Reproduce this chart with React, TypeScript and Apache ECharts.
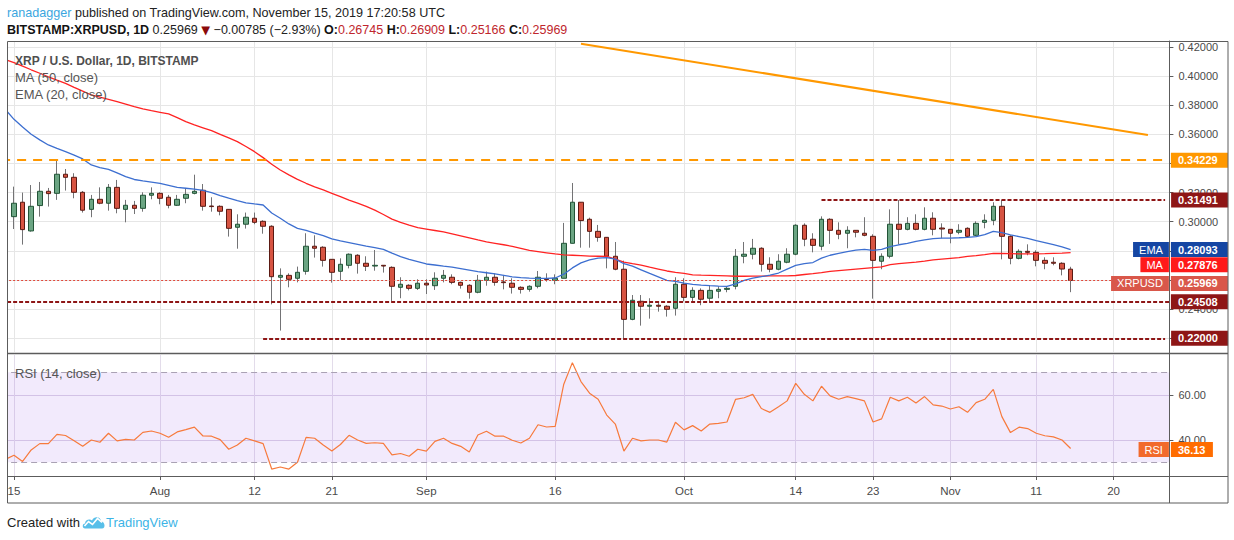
import React, { useEffect, useRef } from 'react';
import * as echarts from 'echarts';

const FONT = '"Liberation Sans", Arial, sans-serif';

// ---------- data ----------
const startYear = 2019;
const startMonth = 6; // July (0-based)
const startDay = 14;
const totalDays = 136;

const opens = [
  0.3321,
  0.3035, 0.3134, 0.2937, 0.3111, 0.3209, 0.3195, 0.3326, 0.3305, 0.3202, 0.3085,
  0.3154, 0.3127, 0.3236, 0.3085, 0.3113, 0.3092, 0.3182, 0.3195, 0.3168, 0.3113,
  0.3161, 0.3195, 0.3216, 0.3108, 0.3106, 0.3085, 0.2962, 0.2983, 0.3024, 0.3003,
  0.2969, 0.2619, 0.2632, 0.2612, 0.2660, 0.2832, 0.2825, 0.2742, 0.2660, 0.2701,
  0.2770, 0.2715, 0.2696, 0.2701, 0.2687, 0.2550, 0.2564, 0.2543, 0.2578, 0.2561,
  0.2612, 0.2619, 0.2584, 0.2564, 0.2516, 0.2598, 0.2619, 0.2587, 0.2578, 0.2550,
  0.2536, 0.2557, 0.2610, 0.2598, 0.2612, 0.2852, 0.3134, 0.3017, 0.2934, 0.2893,
  0.2763, 0.2674, 0.2330, 0.2454, 0.2420, 0.2427, 0.2420, 0.2406, 0.2571, 0.2481,
  0.2529, 0.2475, 0.2523, 0.2536, 0.2557, 0.2763, 0.2777, 0.2818, 0.2708, 0.2674,
  0.2722, 0.2777, 0.2976, 0.2880, 0.2832, 0.3017, 0.2941, 0.2921, 0.2941, 0.2921,
  0.2900, 0.2729, 0.2763, 0.2983, 0.2948, 0.2989, 0.2948, 0.3024, 0.2957, 0.2948,
  0.2928, 0.2955, 0.2907, 0.2996, 0.3010, 0.3106, 0.2900, 0.2749, 0.2797, 0.2790,
  0.2735, 0.2722, 0.2715, 0.26745,
];
const closes = [
  0.3035,
  0.3127, 0.2946, 0.3106, 0.3209, 0.3193, 0.3326, 0.3305, 0.3202, 0.3079, 0.3154,
  0.3127, 0.3236, 0.3092, 0.3113, 0.3092, 0.3182, 0.3195, 0.3161, 0.3113, 0.3154,
  0.3188, 0.3209, 0.3106, 0.3104, 0.3072, 0.2955, 0.2983, 0.3031, 0.2996, 0.2969,
  0.2623, 0.2632, 0.2605, 0.2653, 0.2832, 0.2818, 0.2735, 0.2653, 0.2708, 0.2777,
  0.2715, 0.2694, 0.2701, 0.2696, 0.2557, 0.2571, 0.2543, 0.2578, 0.2566, 0.2612,
  0.2632, 0.2584, 0.2564, 0.2516, 0.2598, 0.2619, 0.2584, 0.2582, 0.2550, 0.2536,
  0.2557, 0.2619, 0.2603, 0.2612, 0.2852, 0.3134, 0.3008, 0.2934, 0.2893, 0.2763,
  0.2674, 0.2330, 0.2461, 0.2420, 0.2427, 0.2420, 0.2399, 0.2571, 0.2481, 0.2529,
  0.2468, 0.2529, 0.2536, 0.2543, 0.2763, 0.2777, 0.2818, 0.2708, 0.2674, 0.2729,
  0.2777, 0.2976, 0.2880, 0.2838, 0.3017, 0.2941, 0.2914, 0.2941, 0.2928, 0.2907,
  0.2735, 0.2763, 0.2983, 0.2948, 0.2989, 0.2948, 0.3024, 0.2948, 0.2950, 0.2921,
  0.2941, 0.2900, 0.2989, 0.3010, 0.3106, 0.2900, 0.2749, 0.2797, 0.2790, 0.2735,
  0.2715, 0.2715, 0.26754, 0.25969,
];
const lows = [
  0.3030,
  0.2950, 0.2843, 0.2932, 0.3035, 0.3104, 0.3150, 0.3214, 0.3161, 0.3063, 0.3031,
  0.3120, 0.3076, 0.3058, 0.2996, 0.3053, 0.3069, 0.3154, 0.3120, 0.3092, 0.3108,
  0.3127, 0.3188, 0.3076, 0.3069, 0.3044, 0.2898, 0.2815, 0.2953, 0.2983, 0.2918,
  0.2433, 0.2253, 0.2550, 0.2584, 0.2637, 0.2754, 0.2692, 0.2582, 0.2598, 0.2680,
  0.2644, 0.2662, 0.2664, 0.2651, 0.2454, 0.2475, 0.2529, 0.2532, 0.2504, 0.2532,
  0.2584, 0.2571, 0.2541, 0.2472, 0.2509, 0.2561, 0.2561, 0.2536, 0.2507, 0.2507,
  0.2520, 0.2543, 0.2589, 0.2571, 0.2612, 0.2852, 0.2822, 0.2822, 0.2863, 0.2680,
  0.2667, 0.2200, 0.2324, 0.2287, 0.2335, 0.2383, 0.2349, 0.2356, 0.2454, 0.2454,
  0.2427, 0.2447, 0.2475, 0.2516, 0.2536, 0.2715, 0.2742, 0.2658, 0.2653, 0.2667,
  0.2715, 0.2770, 0.2832, 0.2790, 0.2804, 0.2848, 0.2880, 0.2818, 0.2893, 0.2900,
  0.2472, 0.2674, 0.2749, 0.2845, 0.2941, 0.2941, 0.2941, 0.2907, 0.2886, 0.2852,
  0.2914, 0.2893, 0.2900, 0.2955, 0.2976, 0.2742, 0.2708, 0.2742, 0.2770, 0.2694,
  0.2674, 0.2701, 0.2632, 0.25166,
];
const highs = [
  0.3345,
  0.3241, 0.3200, 0.3252, 0.3273, 0.3232, 0.3420, 0.3362, 0.3333, 0.3211, 0.3184,
  0.3236, 0.3259, 0.3287, 0.3150, 0.3143, 0.3202, 0.3236, 0.3202, 0.3184, 0.3184,
  0.3232, 0.3323, 0.3259, 0.3168, 0.3113, 0.3085, 0.3051, 0.3063, 0.3063, 0.3010,
  0.2976, 0.2680, 0.2646, 0.2692, 0.2921, 0.2907, 0.2832, 0.2742, 0.2749, 0.2783,
  0.2777, 0.2763, 0.2806, 0.2701, 0.2694, 0.2619, 0.2571, 0.2605, 0.2605, 0.2653,
  0.2669, 0.2639, 0.2589, 0.2571, 0.2635, 0.2658, 0.2646, 0.2635, 0.2612, 0.2557,
  0.2564, 0.2662, 0.2646, 0.2639, 0.2992, 0.3266, 0.3134, 0.3028, 0.2978, 0.2895,
  0.2861, 0.2733, 0.2497, 0.2497, 0.2475, 0.2447, 0.2427, 0.2619, 0.2612, 0.2550,
  0.2543, 0.2564, 0.2557, 0.2557, 0.2813, 0.2861, 0.2882, 0.2825, 0.2756, 0.2777,
  0.2818, 0.2983, 0.2989, 0.2921, 0.3037, 0.3024, 0.2996, 0.2969, 0.2941, 0.3031,
  0.2914, 0.2783, 0.3085, 0.3149, 0.3031, 0.3051, 0.3099, 0.3065, 0.2989, 0.2948,
  0.2983, 0.2962, 0.3003, 0.3051, 0.3134, 0.3149, 0.2907, 0.2811, 0.2845, 0.2804,
  0.2756, 0.2756, 0.2722, 0.26909,
];
const ma50 = [
  0.4112,
  0.4092, 0.4068, 0.4043, 0.4019, 0.3995, 0.3972, 0.3950, 0.3922, 0.3896, 0.3870,
  0.3855, 0.3840, 0.3824, 0.3807, 0.3790, 0.3774, 0.3762, 0.3751, 0.3740, 0.3715,
  0.3687, 0.3665, 0.3645, 0.3625, 0.3600, 0.3575, 0.3550, 0.3516, 0.3481, 0.3440,
  0.3395, 0.3355, 0.3322, 0.3291, 0.3264, 0.3240, 0.3218, 0.3195, 0.3172, 0.3149,
  0.3128, 0.3106, 0.3080, 0.3050, 0.3018, 0.2995, 0.2977, 0.2960, 0.2950, 0.2940,
  0.2930, 0.2917, 0.2903, 0.2889, 0.2875, 0.2862, 0.2852, 0.2842, 0.2831, 0.2818,
  0.2803, 0.2795, 0.2787, 0.2779, 0.2773, 0.2770, 0.2767, 0.2764, 0.2763, 0.2762,
  0.2743, 0.2723, 0.2712, 0.2702, 0.2688, 0.2675, 0.2662, 0.2652, 0.2645, 0.2635,
  0.2633, 0.2632, 0.2630, 0.2628, 0.2626, 0.2626, 0.2627, 0.2627, 0.2628, 0.2628,
  0.2629, 0.2631, 0.2638, 0.2644, 0.2651, 0.2660, 0.2665, 0.2670, 0.2675, 0.2680,
  0.2685, 0.2690, 0.2705, 0.2713, 0.2718, 0.2723, 0.2730, 0.2738, 0.2744, 0.2749,
  0.2754, 0.2762, 0.2768, 0.2775, 0.2783, 0.2782, 0.2781, 0.2780, 0.2780, 0.2780,
  0.2781, 0.2783, 0.2785, 0.27876,
];
const ema20 = [
  0.3770,
  0.3703, 0.3650, 0.3600, 0.3562, 0.3527, 0.3503, 0.3481, 0.3457, 0.3431, 0.3390,
  0.3372, 0.3360, 0.3335, 0.3310, 0.3290, 0.3280, 0.3272, 0.3264, 0.3250, 0.3236,
  0.3230, 0.3224, 0.3215, 0.3200, 0.3180, 0.3162, 0.3145, 0.3130, 0.3122, 0.3115,
  0.3060, 0.3024, 0.2985, 0.2955, 0.2940, 0.2922, 0.2905, 0.2882, 0.2868, 0.2857,
  0.2845, 0.2833, 0.2822, 0.2811, 0.2785, 0.2761, 0.2742, 0.2726, 0.2710, 0.2703,
  0.2695, 0.2688, 0.2678, 0.2668, 0.2658, 0.2650, 0.2642, 0.2632, 0.2622, 0.2617,
  0.2613, 0.2612, 0.2612, 0.2614, 0.2640, 0.2683, 0.2718, 0.2738, 0.2750, 0.2754,
  0.2743, 0.2712, 0.2695, 0.2670, 0.2645, 0.2622, 0.2598, 0.2590, 0.2578, 0.2570,
  0.2565, 0.2561, 0.2558, 0.2557, 0.2573, 0.2598, 0.2613, 0.2623, 0.2634, 0.2648,
  0.2675, 0.2700, 0.2712, 0.2720, 0.2750, 0.2770, 0.2783, 0.2795, 0.2805, 0.2811,
  0.2803, 0.2810, 0.2830, 0.2842, 0.2852, 0.2866, 0.2876, 0.2884, 0.2887, 0.2888,
  0.2890, 0.2893, 0.2898, 0.2912, 0.2934, 0.2925, 0.2910, 0.2898, 0.2886, 0.2870,
  0.2857, 0.2843, 0.2828, 0.28093,
];
const rsi14 = [
  31.3,
  33.1, 30.4, 35.5, 38.3, 38.3, 42.4, 41.9, 39.6, 37.1, 39.9,
  38.9, 42.9, 39.5, 40.2, 39.9, 43.3, 43.9, 42.9, 41.1, 43.5,
  44.5, 45.6, 41.7, 41.6, 40.1, 35.8, 37.7, 40.7, 39.5, 38.3,
  27.0, 27.9, 27.0, 30.0, 41.1, 40.7, 37.7, 35.0, 37.9, 42.0,
  39.9, 38.4, 38.7, 38.4, 33.3, 33.9, 32.7, 35.8, 35.0, 39.3,
  40.7, 38.4, 37.1, 34.6, 42.1, 43.8, 41.6, 41.6, 39.8, 38.6,
  40.7, 46.7, 45.7, 46.0, 64.7, 74.3, 65.9, 60.7, 58.0, 51.0,
  47.0, 35.0, 40.7, 39.5, 39.9, 39.9, 39.0, 47.8, 44.4, 46.3,
  43.9, 47.0, 47.3, 47.9, 58.0, 58.7, 60.2, 53.9, 52.2, 54.7,
  57.3, 65.1, 60.2, 57.3, 63.8, 59.5, 58.0, 59.2, 58.3, 57.3,
  47.9, 49.3, 58.9, 57.3, 58.9, 56.4, 59.2, 55.5, 55.0, 53.7,
  54.7, 52.2, 56.5, 58.0, 62.4, 50.3, 43.2, 45.6, 45.0, 42.9,
  41.8, 41.3, 39.9, 36.13,
];

const tickDates = [
  '2019-07-15', '2019-08-01', '2019-08-12', '2019-08-21', '2019-09-01', '2019-09-16',
  '2019-10-01', '2019-10-14', '2019-10-23', '2019-11-01', '2019-11-11', '2019-11-20',
];
const tickLabels = ['15', 'Aug', '12', '21', 'Sep', '16', 'Oct', '14', '23', 'Nov', '11', '20'];
const priceTicks = [0.22, 0.24, 0.26, 0.28, 0.30, 0.32, 0.34, 0.36, 0.38, 0.40, 0.42];
const priceLabels = [0.24, 0.30, 0.32, 0.36, 0.38, 0.40, 0.42];
const rsiTicks = [40, 60];

const levelTop = 0.34229;
const levelResist = 0.31491;
const levelResistStart = '2019-10-17';
const levelSupport = 0.24508;
const levelFloor = 0.22;
const levelFloorStart = '2019-08-13';
const trendStartDate = '2019-09-19';
const trendStartValue = 0.4222;
const trendEndDate = '2019-11-24';
const trendEndValue = 0.3595;
const rsiUpper = 70;
const rsiLower = 30;

// ---------- helpers ----------
const dates: string[] = [];
for (let k = 0; k < totalDays; k++) {
  const d = new Date(Date.UTC(startYear, startMonth, startDay + k));
  dates.push(d.toISOString().slice(0, 10));
}
const tickSet = new Set(tickDates);
const labelMap: Record<string, string> = {};
tickDates.forEach((d, i) => (labelMap[d] = tickLabels[i]));
const isTick = (_i: number, v: string) => tickSet.has(v);

const ohlc = opens.map((o, i) => [o, closes[i], lows[i], highs[i]]);
const bodies = opens.map((o, i) => [o, closes[i], Math.min(o, closes[i]), Math.max(o, closes[i])]);
const last = closes.length - 1;
const f5 = (v: number) => v.toFixed(5);

const DARKRED = '#8e1616';
const ORANGE = '#ff9800';

echarts.graphic.registerShape(
  'tvLogo',
  echarts.graphic.extendPath('M3 14 C0 14 0 9 3 9 C3 5 8 4 10 6 C12 1 19 2 19 7 C23 7 24 14 20 14 Z', {})
);

function tagRight(txt: string, bg: string, dist: number, shift = 0, w = 45) {
  const body = `{t|${txt}}`;
  return {
    show: true,
    position: 'end',
    distance: dist,
    formatter: () => (shift ? `{s| }\n${body}` : body),
    rich: {
      s: { lineHeight: shift * 2, fontSize: 1 },
      t: {
        color: '#fff', backgroundColor: bg, fontWeight: 'bold', fontSize: 11,
        fontFamily: FONT, lineHeight: 13, padding: [2, 5, 2, 7], width: w,
      },
    },
  };
}
function tagLeft(txt: string, bg: string, shift = 0) {
  const body = `{t|${txt}}`;
  return {
    show: true,
    position: 'insideEnd',
    distance: 0.5,
    formatter: () => (shift ? `{s| }\n${body}` : body),
    rich: {
      s: { lineHeight: shift * 2, fontSize: 1 },
      t: {
        color: '#fff', backgroundColor: bg, fontSize: 11,
        fontFamily: FONT, lineHeight: 13, padding: [2, 6, 2, 6],
      },
    },
  };
}
const hidden = { color: 'rgba(0,0,0,0)', width: 1 };
const darkDash = () => ({ color: DARKRED, width: 2, type: [4, 2] as any });

export default function App() {
  const ref = useRef<HTMLDivElement>(null);

  useEffect(() => {
    if (!ref.current) return;
    const chart = echarts.init(ref.current, undefined, { renderer: 'svg' });

    const change = closes[last] - closes[last - 1];
    const pct = (change / closes[last - 1]) * 100;
    const sign = change < 0 ? '\u2212' : '+';
    const header2 =
      `{k|BITSTAMP:XRPUSD, 1D}{n| ${f5(closes[last])} }{t|\u25BC}{n| ${sign}${f5(Math.abs(change))} (${sign}${Math.abs(pct).toFixed(2)}%) }` +
      `{k|O:}{v|${f5(opens[last])}}{n| }{k|H:}{v|${f5(highs[last])}}{n| }{k|L:}{v|${f5(lows[last])}}{n| }{k|C:}{v|${f5(closes[last])}}`;

    const frame = '#5c5c5c';
    const mlBase = { silent: true, symbol: ['none', 'none'], animation: false, precision: 6 };

    const option: any = {
      animation: false,
      backgroundColor: '#ffffff',
      textStyle: { fontFamily: FONT },
      grid: [
        { left: 1.11, right: 64.6, top: 41, height: 311 },
        { left: 1.11, right: 64.6, top: 355, height: 121 },
      ],
      xAxis: [
        {
          type: 'category', gridIndex: 0, data: dates, boundaryGap: true,
          axisLine: { show: false }, axisTick: { show: false }, axisLabel: { show: false },
          splitLine: { show: true, interval: isTick, alignWithLabel: true, lineStyle: { color: '#e6e6e6', width: 1 } },
        },
        {
          type: 'category', gridIndex: 1, data: dates, boundaryGap: true,
          axisLine: { show: true, lineStyle: { color: frame } },
          axisTick: { show: true, interval: isTick, alignWithLabel: true, length: 4, lineStyle: { color: frame } },
          axisLabel: {
            show: true, interval: isTick, formatter: (v: string) => labelMap[v] || '',
            color: '#4a4a4a', fontSize: 11.5, margin: 9, fontFamily: FONT,
          },
          splitLine: { show: true, interval: isTick, alignWithLabel: true, lineStyle: { color: '#e3dcea', width: 1 } },
        },
      ],
      yAxis: [
        {
          type: 'value', gridIndex: 0, position: 'right', min: 0.2106, max: 0.42405,
          axisLine: { show: true, lineStyle: { color: frame } },
          axisTick: { show: true, customValues: priceTicks, length: 4, lineStyle: { color: frame } },
          axisLabel: { customValues: priceLabels, formatter: (v: number) => v.toFixed(5), color: '#4a4a4a', fontSize: 11, margin: 9, fontFamily: FONT },
          splitLine: { show: true, lineStyle: { color: '#e6e6e6', width: 1 } },
        },
        {
          type: 'value', gridIndex: 1, position: 'right', min: 23.91, max: 77.69,
          axisLine: { show: true, lineStyle: { color: frame } },
          axisTick: { show: true, customValues: rsiTicks, length: 4, lineStyle: { color: frame } },
          axisLabel: { customValues: rsiTicks, formatter: (v: number) => v.toFixed(2), color: '#4a4a4a', fontSize: 11, margin: 9, fontFamily: FONT },
          splitLine: { show: true, lineStyle: { color: '#dcd2e6', width: 1 } },
        },
      ],
      series: [
        {
          name: 'wick', type: 'candlestick', xAxisIndex: 0, yAxisIndex: 0, data: ohlc,
          barWidth: 1, silent: true, z: 2,
          itemStyle: { color: '#737375', color0: '#737375', borderColor: '#737375', borderColor0: '#737375', borderWidth: 1 },
        },
        {
          name: 'XRPUSD', type: 'candlestick', xAxisIndex: 0, yAxisIndex: 0, data: bodies,
          barWidth: 5, silent: true, z: 3,
          itemStyle: { color: '#6ba583', color0: '#d75442', borderColor: '#225437', borderColor0: '#5b1a13', borderWidth: 1 },
          markLine: {
            ...mlBase,
            data: [
              { yAxis: levelTop, lineStyle: { color: ORANGE, width: 2, type: [9, 7] }, label: tagRight(f5(levelTop), ORANGE, 1.5) },
              [
                { coord: [levelResistStart, levelResist], lineStyle: darkDash(), label: tagRight(f5(levelResist), DARKRED, 6) },
                { coord: [dates[dates.length - 1], levelResist] },
              ],
              { yAxis: levelSupport, lineStyle: darkDash(), label: tagRight(f5(levelSupport), DARKRED, 1.5) },
              [
                { coord: [levelFloorStart, levelFloor], lineStyle: darkDash(), label: tagRight(f5(levelFloor), DARKRED, 6) },
                { coord: [dates[dates.length - 1], levelFloor] },
              ],
              { yAxis: closes[last], lineStyle: { color: '#e0493b', width: 1, type: [2, 2] }, label: tagRight(f5(closes[last]), '#d9574a', 1.5, 3) },
              { yAxis: closes[last], lineStyle: hidden, label: tagLeft('XRPUSD', '#d9574a', 3) },
              [
                { coord: [trendStartDate, trendStartValue], lineStyle: { color: ORANGE, width: 2, type: 'solid' }, label: { show: false } },
                { coord: [trendEndDate, trendEndValue] },
              ],
            ],
          },
        },
        {
          name: 'MA', type: 'line', xAxisIndex: 0, yAxisIndex: 0, data: ma50, symbol: 'none', z: 4, silent: true,
          lineStyle: { color: '#ff2323', width: 1.3 },
          markLine: {
            ...mlBase,
            data: [
              { yAxis: ma50[last], lineStyle: hidden, label: tagRight(f5(ma50[last]), '#ff1a1a', 1.5, 12) },
              { yAxis: ma50[last], lineStyle: hidden, label: tagLeft('MA', '#ff1a1a', 12) },
            ],
          },
        },
        {
          name: 'EMA', type: 'line', xAxisIndex: 0, yAxisIndex: 0, data: ema20, symbol: 'none', z: 4, silent: true,
          lineStyle: { color: '#3d6fd0', width: 1.3 },
          markLine: {
            ...mlBase,
            data: [
              { yAxis: ema20[last], lineStyle: hidden, label: tagRight(f5(ema20[last]), '#1546a3', 1.5) },
              { yAxis: ema20[last], lineStyle: hidden, label: tagLeft('EMA', '#1546a3') },
            ],
          },
        },
        {
          name: 'RSI', type: 'line', xAxisIndex: 1, yAxisIndex: 1, data: rsi14, symbol: 'none', z: 4, silent: true,
          lineStyle: { color: '#f77a3c', width: 1.2 },
          markArea: {
            silent: true,
            itemStyle: { color: 'rgba(155, 89, 230, 0.13)' },
            data: [[{ yAxis: rsiLower }, { yAxis: rsiUpper }]],
          },
          markLine: {
            ...mlBase,
            data: [
              { yAxis: rsiUpper, lineStyle: { color: '#aaa2b4', width: 1, type: [6, 4] }, label: { show: false } },
              { yAxis: rsiLower, lineStyle: { color: '#aaa2b4', width: 1, type: [6, 4] }, label: { show: false } },
              { yAxis: rsi14[last], lineStyle: hidden, label: tagRight(rsi14[last].toFixed(2), '#ff6d00', 1.5, 1, 30) },
              { yAxis: rsi14[last], lineStyle: hidden, label: tagLeft('RSI', '#f26a2c', 1) },
            ],
          },
        },
      ],
      graphic: [
        // left margin cover (outside the chart frame)
        { type: 'rect', silent: true, z: 45, shape: { x: 0, y: 40, width: 7.5, height: 465 }, style: { fill: '#ffffff' } },
        // frame
        { type: 'rect', silent: true, z: 50, shape: { x: 7.5, y: 41.5, width: 1220.5, height: 461.5 }, style: { fill: 'none', stroke: frame, lineWidth: 1 } },
        { type: 'line', silent: true, z: 50, shape: { x1: 7.5, y1: 353.5, x2: 1228, y2: 353.5 }, style: { stroke: frame, lineWidth: 1.5 } },
        { type: 'line', silent: true, z: 50, shape: { x1: 7.5, y1: 476.5, x2: 1228, y2: 476.5 }, style: { stroke: frame, lineWidth: 1 } },
        { type: 'line', silent: true, z: 50, shape: { x1: 1169.5, y1: 41.5, x2: 1169.5, y2: 503 }, style: { stroke: frame, lineWidth: 1 } },
        // header
        {
          type: 'text', silent: true, z: 60, x: 7, y: 12.5,
          style: {
            text: '{a|ranadagger}{b| published on TradingView.com, November 15, 2019 17:20:58 UTC}',
            verticalAlign: 'middle',
            rich: {
              a: { fill: '#3aa6e0', fontSize: 12.6, fontFamily: FONT },
              b: { fill: '#222', fontSize: 12.6, fontFamily: FONT },
            },
          },
        },
        {
          type: 'text', silent: true, z: 60, x: 7, y: 29.5,
          style: {
            text: header2,
            verticalAlign: 'middle',
            rich: {
              k: { fill: '#131313', fontSize: 12.5, fontWeight: 'bold', fontFamily: FONT },
              n: { fill: '#222', fontSize: 12.5, fontFamily: FONT },
              t: { fill: '#8b0a0a', fontSize: 11.5, fontFamily: '"DejaVu Sans", sans-serif' },
              v: { fill: '#c0262d', fontSize: 12.5, fontFamily: FONT },
            },
          },
        },
        // legends
        { type: 'text', silent: true, z: 60, x: 15, y: 60.5, style: { text: 'XRP / U.S. Dollar, 1D, BITSTAMP', fill: '#4f4f4f', fontSize: 12, fontWeight: 'bold', fontFamily: FONT, verticalAlign: 'middle' } },
        { type: 'text', silent: true, z: 60, x: 15, y: 77.5, style: { text: 'MA (50, close)', fill: '#555', fontSize: 13, fontFamily: FONT, verticalAlign: 'middle' } },
        { type: 'text', silent: true, z: 60, x: 15, y: 94.5, style: { text: 'EMA (20, close)', fill: '#555', fontSize: 13, fontFamily: FONT, verticalAlign: 'middle' } },
        { type: 'text', silent: true, z: 60, x: 15, y: 373, style: { text: 'RSI (14, close)', fill: '#555', fontSize: 13, fontFamily: FONT, verticalAlign: 'middle' } },
        // footer
        { type: 'text', silent: true, z: 60, x: 7, y: 522.5, style: { text: 'Created with', fill: '#222', fontSize: 13, fontFamily: FONT, verticalAlign: 'middle' } },
        { type: 'tvLogo', silent: true, z: 60, x: 82, y: 514.5, scaleX: 1, scaleY: 1, style: { fill: '#58bfe9' } },
        { type: 'polyline', silent: true, z: 61, shape: { points: [[84.5, 526], [88.5, 521.5], [92.5, 524.5], [97.5, 518.5], [102, 522.5]] }, style: { stroke: '#ffffff', lineWidth: 1.6, fill: 'none' } },
        { type: 'text', silent: true, z: 60, x: 106, y: 522.5, style: { text: 'TradingView', fill: '#3cb4e6', fontSize: 13, fontFamily: FONT, verticalAlign: 'middle' } },
      ],
    };

    chart.setOption(option);
    return () => chart.dispose();
  }, []);

  return (
    <div
      ref={ref}
      style={{ position: 'absolute', left: 0, top: 0, width: 1234, height: 540, background: '#fff' }}
    />
  );
}
